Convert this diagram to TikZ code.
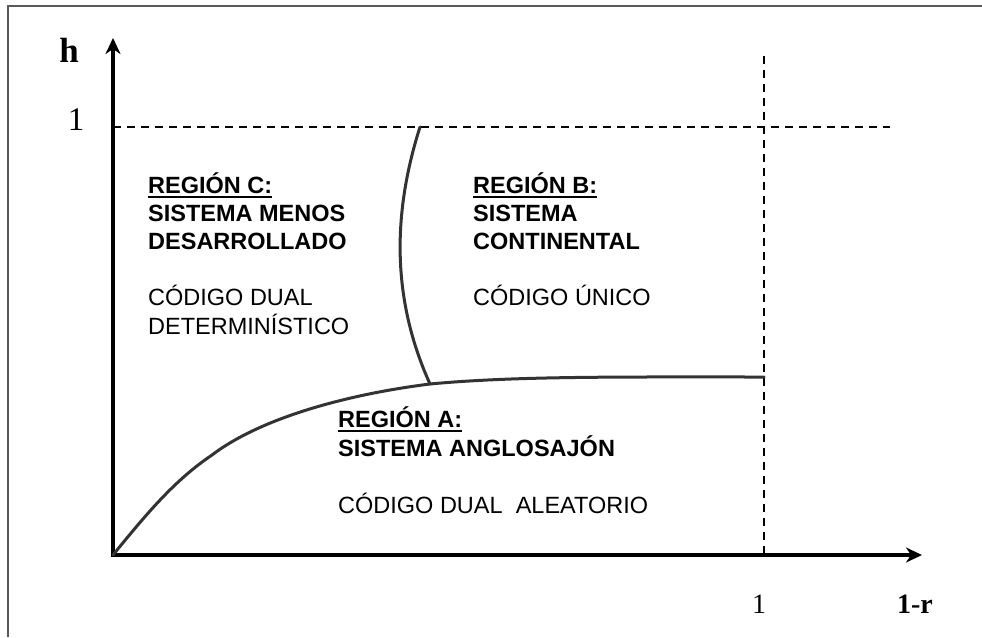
\documentclass[tikz,border=0pt]{standalone}
\usepackage{fontspec}
\setmainfont{Liberation Sans}
\newfontfamily\serifface{Liberation Serif}
\usetikzlibrary{arrows.meta}
\newcommand\ulbox[1]{\setbox0\hbox{#1}\rlap{\rule[-4.5pt]{\wd0}{2pt}}\box0}
\tikzset{
  axis/.style={line width=3.5pt, -{Stealth[length=16pt,width=15pt,inset=5pt]}},
  guide/.style={line width=1.5pt, dash pattern=on 8pt off 6pt},
  border/.style={line width=1.5pt, draw=black!65},
  bound/.style={line width=3pt, draw=black!80, line cap=round, line join=round},
  region/.style={inner sep=0pt, anchor=base west, font=\fontsize{23.5}{28}\selectfont},
  axlabel/.style={inner sep=0pt, font=\serifface\fontsize{28}{30}\selectfont},
}
\begin{document}
\begin{tikzpicture}[x=1pt,y=-1pt]
\useasboundingbox (0,0) rectangle (982,637);
\draw[border] (8,637) -- (8,6) -- (982,6);
% guides
\coordinate (h1l) at (113,127);
\coordinate (h1r) at (890,127);
\coordinate (x1t) at (764,56);
\coordinate (x1b) at (764,555);
\draw[guide] (h1l) -- (h1r);
\draw[guide] (x1t) -- (x1b);
% axes
\coordinate (O) at (113,555);
\coordinate (ytip) at (113,38);
\coordinate (xtip) at (922,555);
\draw[axis] ([yshift=1.75pt]O) -- (ytip);
\draw[axis] ([xshift=-1.75pt]O) -- (xtip);
% boundaries
\coordinate (K) at (212,455);
\coordinate (J) at (430,384);
\coordinate (E) at (764,377);
\coordinate (T) at (420,127);
\draw[bound] (O) .. controls (148,512) and (175,480) .. (K)
                 .. controls (262,417) and (350,394) .. (J)
                 .. controls (515,376) and (620,377) .. (E);
\draw[bound] (T) .. controls (392,215) and (392,300) .. (J);
% labels
\node[axlabel, font=\serifface\bfseries\fontsize{35}{36}\selectfont] (hl) at (69,50) {h};
\node[axlabel, font=\serifface\fontsize{33}{34}\selectfont] (one1) at (76,120) {1};
\node[axlabel] (one2) at (759,604) {1};
\node[axlabel, font=\serifface\bfseries\fontsize{28}{30}\selectfont] (rl) at (915,604) {1-r};
% regions
\node[region] (rc) at (148,193) {\begin{tabular}[t]{@{}l@{}}\textbf{\ulbox{REGIÓN C:}}\\\textbf{SISTEMA MENOS}\\\textbf{DESARROLLADO}\\ \\CÓDIGO DUAL\\DETERMINÍSTICO\end{tabular}};
\node[region] (rb) at (473,193) {\begin{tabular}[t]{@{}l@{}}\textbf{\ulbox{REGIÓN B:}}\\\textbf{SISTEMA}\\\textbf{CONTINENTAL}\\ \\CÓDIGO ÚNICO\end{tabular}};
\node[region] (ra) at (338,427) {\begin{tabular}[t]{@{}l@{}}\textbf{\ulbox{REGIÓN A:}}\\\textbf{SISTEMA ANGLOSAJÓN}\\ \\CÓDIGO DUAL\ \ ALEATORIO\end{tabular}};
\end{tikzpicture}
\end{document}
